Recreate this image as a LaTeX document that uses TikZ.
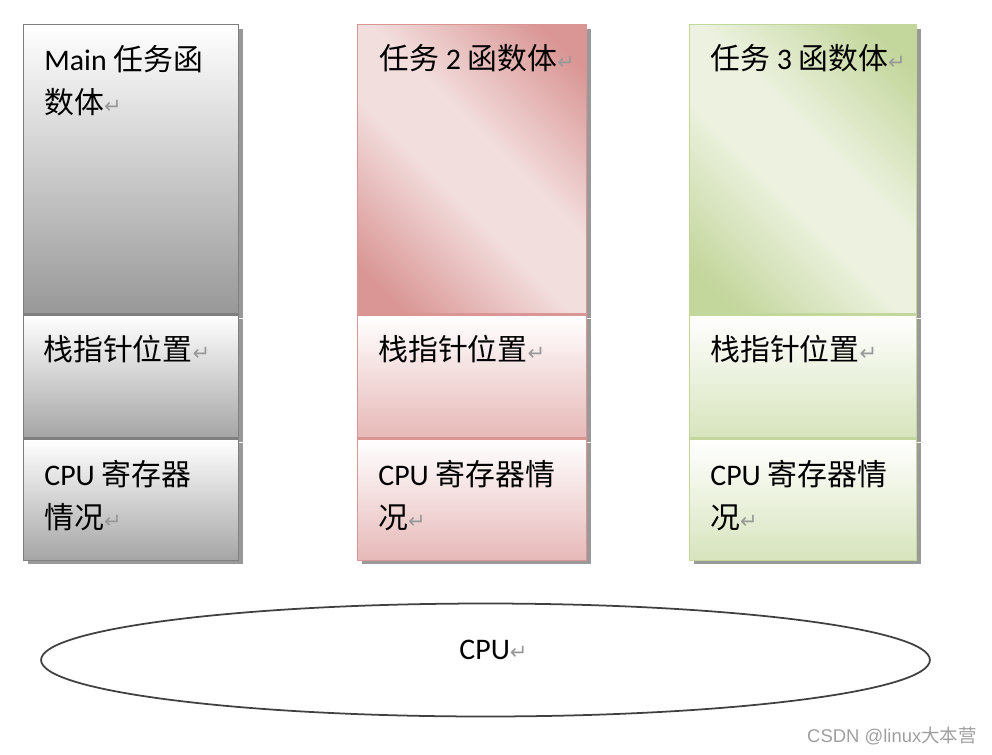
\documentclass[tikz,border=0pt]{standalone}
\usepackage{fontspec}
\setmainfont{Noto Sans CJK SC}
\newfontfamily\lat{Carlito}
\newfontfamily\sym{DejaVu Sans}
\newfontfamily\wmfont{Liberation Sans}
\usepackage{tikz}
\usetikzlibrary{shapes.geometric,positioning,shadows}
\definecolor{grayline}{RGB}{127,127,127}
\definecolor{graydk}{RGB}{152,152,152}
\definecolor{graymd}{RGB}{165,165,165}
\definecolor{pinkdk}{RGB}{217,150,148}
\definecolor{pinklt}{RGB}{242,222,221}
\definecolor{pinkmd}{RGB}{230,185,184}
\definecolor{greendk}{RGB}{195,214,155}
\definecolor{greenlt}{RGB}{236,242,223}
\definecolor{greenmd}{RGB}{215,228,189}
\pgfdeclareverticalshading{pinkdiag}{100bp}{color(0bp)=(pinkdk);
  color(21bp)=(pinkdk); color(44bp)=(pinklt); color(56bp)=(pinklt);
  color(79bp)=(pinkdk); color(100bp)=(pinkdk)}
\pgfdeclareverticalshading{greendiag}{100bp}{color(0bp)=(greendk);
  color(21bp)=(greendk); color(44bp)=(greenlt); color(56bp)=(greenlt);
  color(79bp)=(greendk); color(100bp)=(greendk)}
\newcommand{\pmark}{{\sym\fontsize{12}{12}\selectfont\color{gray!80}↵}}

\begin{document}
\begin{tikzpicture}[x=0.02cm,y=-0.02cm,
  sect/.style={line width=0.8pt,inner sep=0pt,anchor=north west,
               drop shadow={shadow xshift=0.08cm,shadow yshift=-0.08cm,
                            fill=black!40,opacity=1}},
  graybox/.style={sect,draw=grayline,top color=white,bottom color=graymd},
  pinkbox/.style={sect,draw=pinkdk,top color=white,bottom color=pinkmd},
  greenbox/.style={sect,draw=greendk,top color=white,bottom color=greenmd},
  txt/.style={font=\fontsize{17}{24.5}\selectfont,align=left,inner sep=0pt}]
  \useasboundingbox (0,0) rectangle (992,755);
  % main task
  \node[graybox,bottom color=graydk,minimum width=4.3cm,minimum height=5.78cm]
    (mainfn) at (23,24) {};
  \node[graybox,minimum width=4.3cm,minimum height=2.46cm]
    (mainsp) at (mainfn.south west) {};
  \node[graybox,minimum width=4.3cm,minimum height=2.42cm]
    (mainreg) at (mainsp.south west) {};
  \node[txt,below right=0.42cm and 0.42cm of mainfn.north west]
    (mainfntxt) {{\lat Main} 任务函\\数体\pmark};
  \node[txt,below right=0.40cm and 0.40cm of mainsp.north west]
    (mainsptxt) {栈指针位置\pmark};
  \node[txt,below right=0.42cm and 0.42cm of mainreg.north west]
    (mainregtxt) {{\lat CPU} 寄存器\\情况\pmark};
  % task 2
  \node[pinkbox,shading=pinkdiag,shading angle=-45,
        minimum width=4.58cm,minimum height=5.78cm]
    (tasktwofn) at (357,24) {};
  \node[pinkbox,minimum width=4.58cm,minimum height=2.46cm]
    (tasktwosp) at (tasktwofn.south west) {};
  \node[pinkbox,minimum width=4.58cm,minimum height=2.42cm]
    (tasktworeg) at (tasktwosp.south west) {};
  \node[txt,below right=0.40cm and 0.44cm of tasktwofn.north west]
    (tasktwofntxt) {任务 {\lat 2} 函数体\pmark};
  \node[txt,below right=0.40cm and 0.42cm of tasktwosp.north west]
    (tasktwosptxt) {栈指针位置\pmark};
  \node[txt,below right=0.42cm and 0.42cm of tasktworeg.north west]
    (tasktworegtxt) {{\lat CPU} 寄存器情\\况\pmark};
  % task 3
  \node[greenbox,shading=greendiag,shading angle=-45,
        minimum width=4.54cm,minimum height=5.78cm]
    (taskthreefn) at (689,24) {};
  \node[greenbox,minimum width=4.54cm,minimum height=2.46cm]
    (taskthreesp) at (taskthreefn.south west) {};
  \node[greenbox,minimum width=4.54cm,minimum height=2.42cm]
    (taskthreereg) at (taskthreesp.south west) {};
  \node[txt,below right=0.40cm and 0.42cm of taskthreefn.north west]
    (taskthreefntxt) {任务 {\lat 3} 函数体\pmark};
  \node[txt,below right=0.40cm and 0.42cm of taskthreesp.north west]
    (taskthreesptxt) {栈指针位置\pmark};
  \node[txt,below right=0.42cm and 0.42cm of taskthreereg.north west]
    (taskthreeregtxt) {{\lat CPU} 寄存器情\\况\pmark};
  % cpu
  \node[ellipse,draw=black!75,line width=1pt,inner sep=0pt,
        minimum width=17.78cm,minimum height=2.26cm] (cpu) at (485.5,660) {};
  \node[inner sep=0pt,font=\lat\fontsize{17}{20}\selectfont,
        xshift=0.16cm,yshift=0.2cm] (cputxt) at (cpu.center) {CPU\pmark};
  \node[anchor=east,inner sep=0pt,text=gray!75,font=\fontsize{10.5}{12}\selectfont]
    (wmark) at (977,736) {{\wmfont CSDN @linux}大本营};
\end{tikzpicture}
\end{document}
